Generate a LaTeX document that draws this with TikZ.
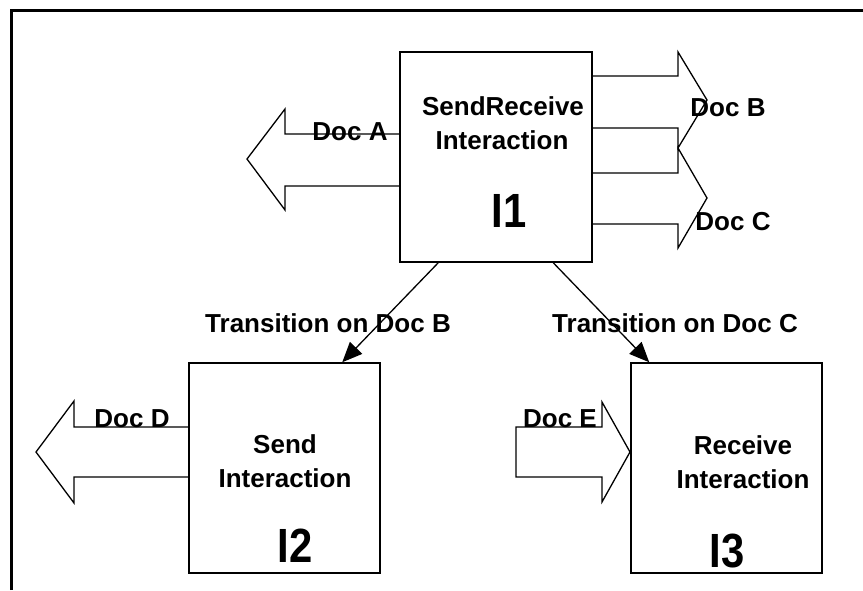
\documentclass[tikz,border=0pt]{standalone}
\usepackage{fontspec}
\setmainfont{Liberation Sans}
\usetikzlibrary{arrows.meta}
\newcommand{\bignum}[1]{\scalebox{0.87}[1]{#1}}
\tikzset{
  box/.style={draw, line width=1.5pt, minimum width=191pt, minimum height=210pt, inner sep=0pt},
  blockarrow/.style={draw, line width=1.3pt, line join=miter},
  lbl/.style={font=\bfseries\fontsize{26}{32}\selectfont, inner sep=0pt, anchor=base},
  num/.style={font=\bfseries\fontsize{48}{52}\selectfont, inner sep=0pt, anchor=base},
  trans/.style={line width=1.3pt, -{Triangle[length=20pt,width=17pt]}},
}
\begin{document}
\begin{tikzpicture}[x=1pt,y=-1pt]
\useasboundingbox (0,0) rectangle (863,590);
% outer frame (open at right and bottom)
\draw[line width=3pt] (11.5,590) -- (11.5,10.5) -- (863,10.5);

% interaction boxes
\node[box, minimum width=192pt] (I1) at (496,157) {};
\node[box] (I2) at (284.5,468) {};
\node[box] (I3) at (726.5,468) {};

% box texts
\node[lbl] (t1a) at (503,115) {SendReceive};
\node[lbl] (t1b) at (502,149) {Interaction};
\node[num] (n1)  at (509,227) {\bignum{I1}};
\node[lbl] (t2a) at (285,453) {Send};
\node[lbl] (t2b) at (285,487) {Interaction};
\node[num] (n2)  at (295,562) {\bignum{I2}};
\node[lbl] (t3a) at (743,454) {Receive};
\node[lbl] (t3b) at (743,488) {Interaction};
\node[num] (n3)  at (727,567) {\bignum{I3}};

% document block arrows
\draw[blockarrow] (400,134) -- (285,134) -- (285,109) -- (247,159) -- (285,210) -- (285,186) -- (400,186);
\draw[blockarrow] (592,76) -- (678,76) -- (678,52) -- (707,100) -- (678,148) -- (678,128) -- (592,128);
\draw[blockarrow] (592,173) -- (678,173) -- (678,148) -- (707,198) -- (678,248) -- (678,224) -- (592,224);
\draw[blockarrow] (189,427) -- (74,427) -- (74,401) -- (36,452) -- (74,503) -- (74,477) -- (189,477);
\draw[blockarrow] (602,427) -- (516,427) -- (516,477) -- (602,477) -- (602,502) -- (630,452) -- (602,402) -- cycle;

% document labels
\node[lbl] (da) at (350,140) {Doc A};
\node[lbl] (db) at (728,116) {Doc B};
\node[lbl] (dc) at (733,230) {Doc C};
\node[lbl] (dd) at (132,427) {Doc D};
\node[lbl] (de) at (560,427) {Doc E};

% transitions
\draw[trans] ([xshift=39pt]I1.south west) -- ([xshift=154pt]I2.north west);
\draw[trans] ([xshift=154pt]I1.south west) -- ([xshift=19pt]I3.north west);
\node[lbl] (trb) at (328,332) {Transition on Doc B};
\node[lbl] (trc) at (675,332) {Transition on Doc C};
\end{tikzpicture}
\end{document}
